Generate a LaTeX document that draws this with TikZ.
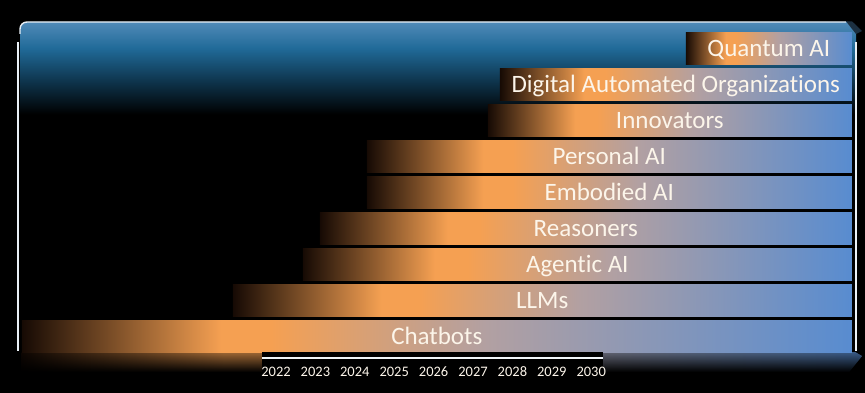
\documentclass[tikz,border=0pt]{standalone}
\usepackage{fontspec}
\setmainfont{Carlito}[Ligatures=NoCommon]
\usepackage{tikz}
\usetikzlibrary{fadings}

\definecolor{bardark}{RGB}{22,10,4}
\definecolor{barorange}{RGB}{245,160,82}
\definecolor{barmid}{RGB}{178,160,162}
\definecolor{barblue}{RGB}{88,140,208}
\definecolor{paneltop}{RGB}{80,138,184}
\definecolor{panelmid}{RGB}{32,106,152}
\definecolor{paneldeep}{RGB}{14,52,76}
\definecolor{labelwhite}{RGB}{252,245,234}

\pgfdeclarehorizontalshading{barshade}{100bp}{color(0bp)=(bardark); color(25bp)=(bardark);
  color(37bp)=(barorange); color(40bp)=(barorange); color(53bp)=(barmid); color(75bp)=(barblue); color(100bp)=(barblue)}
\pgfdeclareverticalshading{panelshade}{100bp}{color(0bp)=(black); color(25bp)=(black);
  color(61bp)=(black); color(66bp)=(paneldeep); color(71bp)=(panelmid); color(75bp)=(paneltop); color(100bp)=(paneltop)}
\tikzfading[name=reflfade, top color=transparent!35, bottom color=transparent!100]

\begin{document}
\begin{tikzpicture}[
    x=1pt, y=-1pt,
    bar/.style={shading=barshade, anchor=east, minimum height=32pt, inner sep=0pt,
                text height=19pt, text depth=3pt, text=labelwhite, font=\fontsize{25}{25}\selectfont},
    year/.style={anchor=base, inner sep=0pt, text=labelwhite, font=\fontsize{14.5}{14.5}\selectfont},
    frame/.style={white!88!paneltop, line width=1.4pt},
    timeline/.style={white!92!paneltop, line width=2pt}
]

    % Background and page size
    \fill[black] (0,0) rectangle (865,393);
    \useasboundingbox (0,0) rectangle (865,393);

    % === Panel behind the bars ===
    \shade[shading=panelshade, rounded corners=8pt] (20,22) rectangle (856,352);
    \draw[frame, rounded corners=7pt] (20,34) -- (20,22) -- (846,22);
    \fill[black!65!paneltop] (846,21.3) -- (852,21.3) -- (862,31) -- (856,34) -- cycle;
    \draw[frame] (18,42) -- (18,351);
    \draw[frame] (856,42) -- (856,351);

    % === Reflection below the bars ===
    \shade[shading=barshade, path fading=reflfade] (22,352) -- (856,352) -- (863,356) -- (850,372) -- (22,372) -- cycle;

    % === Bars, from the latest down to the earliest ===
    \node[bar, minimum width=166pt] (quantum)    at (852,48.5)  {Quantum AI};
    \node[bar, minimum width=352pt] (digital)    at (852,84.5)  {Digital Automated Organizations};
    \node[bar, minimum width=364pt] (innovators) at (852,120.5) {Innovators};
    \node[bar, minimum width=485pt] (personal)   at (852,156.5) {Personal AI};
    \node[bar, minimum width=485pt] (embodied)   at (852,192.5) {Embodied AI};
    \node[bar, minimum width=532pt] (reasoners)  at (852,228.5) {Reasoners};
    \node[bar, minimum width=549pt] (agentic)    at (852,264.5) {Agentic AI};
    \node[bar, minimum width=619pt] (llms)       at (852,300.5) {LLMs};
    \node[bar, minimum width=830pt] (chatbots)   at (852,336.5) {Chatbots};

    % === Time axis ===
    \fill[black] (262,352) rectangle (603,393);
    \coordinate (axis start) at (262,358);
    \coordinate (axis end) at (603,358);
    \draw[timeline] (axis start) -- (axis end);
    \foreach \yr [count=\k from 0] in {2022,...,2030}
        \node[year] (year\yr) at ({276+39.4*\k},376) {\yr};

\end{tikzpicture}
\end{document}
